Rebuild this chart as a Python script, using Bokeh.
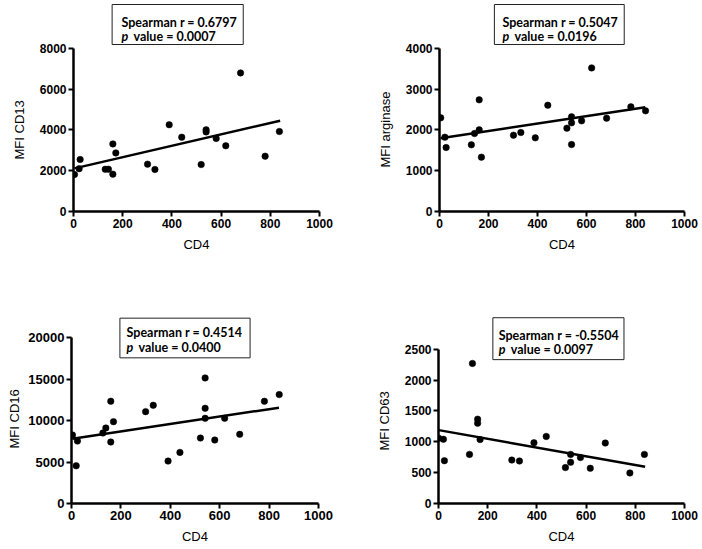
from bokeh.plotting import figure
from bokeh.models import LinearAxis, FixedTicker, Range1d, BoxAnnotation, Label, Grid, Title
from bokeh.layouts import column, row
from bokeh.embed import file_html
from bokeh.resources import INLINE

# ---------------- data ----------------
x_ticks = [0, 200, 400, 600, 800, 1000]

cd4_a = [4, 23, 27, 129, 142, 160, 160, 172, 301, 331, 389, 440, 519, 539, 539, 580, 619, 679, 779, 837]
mfi_cd13 = [1810, 2100, 2550, 2070, 2070, 3310, 1830, 2870, 2320, 2060, 4250, 3640, 2300, 4000, 3900, 3580, 3220, 6790, 2710, 3920]
fit_x_cd13 = [4, 840]
fit_y_cd13 = [2114, 4450]
cd13_ticks = [0, 2000, 4000, 6000, 8000]

cd4_b = [5, 22, 27, 130, 143, 162, 162, 171, 302, 332, 391, 442, 520, 539, 539, 539, 580, 621, 682, 781, 841]
mfi_arg = [2294, 1820, 1567, 1633, 1910, 2735, 2000, 1331, 1869, 1935, 1804, 2604, 2041, 2318, 2171, 1641, 2220, 3518, 2286, 2563, 2465]
fit_x_arg = [4, 840]
fit_y_arg = [1795, 2554]
arg_ticks = [0, 1000, 2000, 3000, 4000]

cd4_c = [4, 24, 19, 127, 139, 159, 159, 170, 300, 331, 391, 439, 522, 541, 541, 541, 580, 620, 681, 781, 841]
mfi_cd16 = [8266, 7540, 4556, 8508, 9113, 12339, 7419, 9879, 11089, 11855, 5121, 6169, 7903, 15161, 11492, 10282, 7661, 10282, 8347, 12339, 13145]
fit_x_cd16 = [4, 840]
fit_y_cd16 = [7823, 11569]
cd16_ticks = [0, 5000, 10000, 15000, 20000]

cd4_d = [1, 20, 24, 126, 138, 159, 159, 169, 298, 329, 388, 438, 516, 537, 537, 577, 617, 678, 778, 837]
mfi_cd63 = [1056, 1041, 694, 796, 2270, 1367, 1301, 1036, 704, 689, 985, 1087, 582, 796, 668, 745, 571, 980, 495, 796]
fit_x_cd63 = [1, 840]
fit_y_cd63 = [1189, 595]
cd63_ticks = [0, 500, 1000, 1500, 2000, 2500]

stats_r = ["Spearman r = 0.6797", "Spearman r = 0.5047", "Spearman r = 0.4514", "Spearman r = -0.5504"]
stats_p = ["value = 0.0007", "value = 0.0196", "value = 0.0400", "value = 0.0097"]
y_labels = ["MFI CD13", "MFI arginase", "MFI CD16", "MFI CD63"]
x_label = "CD4"

# ---------------- helpers ----------------
AX_FONT = "Liberation Sans"
BOX_FONT = "Lato"


def make_panel(xs, ys, fx, fy, yticks, ylab, r_txt, p_txt,
               width, height, b_left, b_top, frame_w, frame_h, y_end, ylab_offset,
               box, txt_x, base1, base2, tick_font="12px", ylab_standoff=19):
    p = figure(width=width, height=height,
               x_range=Range1d(0, x_ticks[-1]), y_range=Range1d(0, y_end),
               x_axis_location=None, y_axis_location=None,
               toolbar_location=None, output_backend="svg",
               min_border_left=b_left, min_border_right=width - b_left - frame_w,
               min_border_top=b_top, min_border_bottom=height - b_top - frame_h)
    p.title.visible = False
    p.outline_line_color = None
    p.background_fill_color = "white"
    p.border_fill_color = "white"
    for r in p.center:
        if isinstance(r, Grid):
            r.visible = False

    xa = LinearAxis(ticker=FixedTicker(ticks=x_ticks), axis_label=x_label, bounds=(0, x_ticks[-1]))
    ya = LinearAxis(ticker=FixedTicker(ticks=yticks), bounds=(0, yticks[-1]))
    for a in (xa, ya):
        a.axis_line_width = 2.5
        a.axis_line_color = "black"
        a.major_tick_line_width = 2
        a.major_tick_line_color = "black"
        a.major_tick_out = 5
        a.major_tick_in = 0
        a.minor_tick_out = 0
        a.minor_tick_in = 0
        a.major_label_text_font = AX_FONT
        a.major_label_text_font_style = "bold"
        a.major_label_text_font_size = tick_font
        a.major_label_text_color = "black"
        a.major_label_standoff = 2
        a.axis_label_text_font = AX_FONT
        a.axis_label_text_font_style = "normal"
        a.axis_label_text_font_size = "13px"
        a.axis_label_text_color = "black"
    xa.axis_label_standoff = 6
    p.add_layout(xa, "below")
    p.add_layout(ya, "left")
    # y-axis title, placed along the axis (0 .. top tick) rather than the whole frame
    p.add_layout(Title(text=ylab, align="left", offset=ylab_offset, standoff=ylab_standoff,
                       text_font=AX_FONT, text_font_style="normal", text_font_size="13px",
                       text_color="black"), "left")

    p.line(fx, fy, line_color="black", line_width=2.5)
    p.scatter(xs, ys, size=6.5, fill_color="black", line_color="black", line_width=0.5)

    left, right, top, bottom = box
    p.add_layout(BoxAnnotation(left=left, right=right, top=top, bottom=bottom,
                               fill_color="white", fill_alpha=1.0,
                               line_color="#222222", line_width=1, line_alpha=1.0))
    p.add_layout(Label(x=txt_x, y=base1, text=r_txt, text_font=BOX_FONT,
                       text_font_style="bold", text_font_size="12.5px",
                       text_color="black", text_baseline="alphabetic"))
    p.add_layout(Label(x=txt_x, y=base2, text="p", text_font=BOX_FONT,
                       text_font_style="bold italic", text_font_size="12.5px",
                       text_color="black", text_baseline="alphabetic"))
    p.add_layout(Label(x=txt_x, y=base2, x_offset=12, text=p_txt, text_font=BOX_FONT,
                       text_font_style="bold", text_font_size="12.5px",
                       text_color="black", text_baseline="alphabetic"))
    return p


p1 = make_panel(cd4_a, mfi_cd13, fit_x_cd13, fit_y_cd13, cd13_ticks, y_labels[0], stats_r[0], stats_p[0],
                351, 285, 73, 3, 246, 208, 10190, 52,
                (157, 690, 10141, 8181), 195, 9259, 8573)
p2 = make_panel(cd4_b, mfi_arg, fit_x_arg, fit_y_arg, arg_ticks, y_labels[1], stats_r[1], stats_p[1],
                349, 285, 88, 3, 245, 208, 5095, 44,
                (224, 754, 5070, 4091), 257, 4629, 4286)
p3 = make_panel(cd4_c, mfi_cd16, fit_x_cd16, fit_y_cd16, cd16_ticks, y_labels[2], stats_r[2], stats_p[2],
                351, 263, 71, 31, 247, 187, 22571, 55,
                (196, 723, 22370, 17582), 223, 20605, 18827, tick_font="13px", ylab_standoff=8)
p4 = make_panel(cd4_d, mfi_cd63, fit_x_cd63, fit_y_cd63, cd63_ticks, y_labels[3], stats_r[3], stats_p[3],
                349, 263, 87, 22, 246, 198, 3031, 53,
                (221, 754, 3011, 2332), 245, 2720, 2495)

layout = column(row(p1, p2), row(p3, p4))

open("out.html", "w").write(file_html(layout, INLINE))
